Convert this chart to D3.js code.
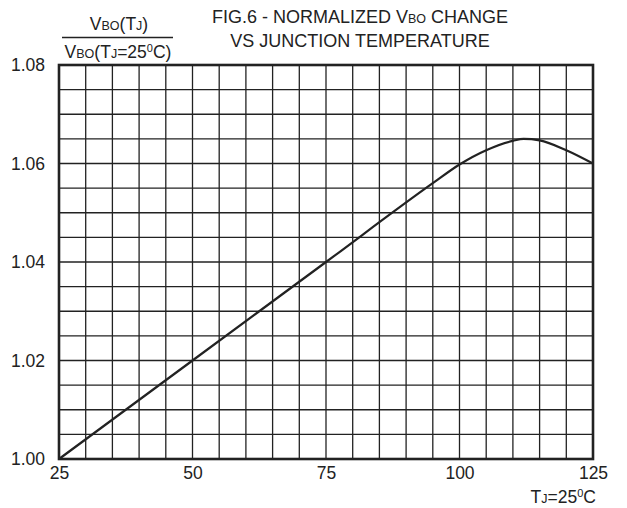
<!DOCTYPE html>
<html>
<head>
<meta charset="utf-8">
<script src="https://cdn.jsdelivr.net/npm/d3@7"></script>
<style>
  body { margin: 0; background: #fff; }
  text { font-family: "Liberation Sans", Arial, sans-serif; fill: #222; }
</style>
</head>
<body>
<svg id="chart" width="627" height="508"></svg>
<script>
// curve: junction temp (C) vs normalized VBO
const temps = [25, 50, 75, 95, 100, 105, 110, 112, 115, 120, 125];
const vbo = [1.000, 1.020, 1.040, 1.056, 1.0598, 1.0627, 1.0646, 1.0650, 1.0647, 1.0627, 1.0600];
const xTicks = [25, 50, 75, 100, 125];
const yTicks = [1.00, 1.02, 1.04, 1.06, 1.08];

const plotLeft = 59, plotRight = 593, plotTop = 65, plotBottom = 459;

const svg = d3.select('#chart');

const x = d3.scaleLinear().domain([25, 125]).range([plotLeft, plotRight]);
const y = d3.scaleLinear().domain([1.00, 1.08]).range([plotBottom, plotTop]);

// grid: 5 C columns, 0.005 rows
const grid = svg.append('g').attr('stroke', '#222').attr('stroke-width', 1.3);
grid.selectAll('line.v')
  .data(d3.range(25, 125.1, 5))
  .enter().append('line')
  .attr('class', 'v')
  .attr('x1', d => x(d)).attr('x2', d => x(d))
  .attr('y1', plotTop).attr('y2', plotBottom);
grid.selectAll('line.h')
  .data(d3.range(0, 17).map(i => 1 + i * 0.005))
  .enter().append('line')
  .attr('class', 'h')
  .attr('x1', plotLeft).attr('x2', plotRight)
  .attr('y1', d => y(d)).attr('y2', d => y(d));

svg.append('rect')
  .attr('x', plotLeft).attr('y', plotTop)
  .attr('width', plotRight - plotLeft).attr('height', plotBottom - plotTop)
  .attr('fill', 'none').attr('stroke', '#222').attr('stroke-width', 2.6);

// axes, only labels shown
const xAxis = svg.append('g')
  .attr('transform', `translate(0, ${plotBottom})`)
  .call(d3.axisBottom(x).tickValues(xTicks).tickSize(0).tickPadding(8));
xAxis.select('.domain').remove();
xAxis.selectAll('text').style('font-size', '17.5px').attr('fill', '#222');

const yAxis = svg.append('g')
  .attr('transform', `translate(${plotLeft}, 0)`)
  .call(d3.axisLeft(y).tickValues(yTicks).tickFormat(d3.format('.2f')).tickSize(0).tickPadding(14));
yAxis.select('.domain').remove();
yAxis.selectAll('text').style('font-size', '17.5px').attr('fill', '#222');

// the curve
const line = d3.line()
  .x(d => x(d))
  .y((d, i) => y(vbo[i]))
  .curve(d3.curveMonotoneX);

svg.append('path')
  .attr('d', line(temps))
  .attr('fill', 'none')
  .attr('stroke', '#222')
  .attr('stroke-width', 2.2);

// title
const title = svg.append('text')
  .attr('text-anchor', 'middle')
  .style('font-size', '18px');
const t1 = title.append('tspan').attr('x', 360).attr('y', 23);
t1.append('tspan').text('FIG.6 - NORMALIZED V');
t1.append('tspan').text('BO').style('font-size', '12.5px');
t1.append('tspan').text(' CHANGE');
title.append('tspan').attr('x', 360).attr('y', 47).text('VS JUNCTION TEMPERATURE');

// y label as a fraction
const num = svg.append('text')
  .attr('x', 119).attr('y', 30)
  .attr('text-anchor', 'middle')
  .style('font-size', '17.5px');
num.append('tspan').text('V');
num.append('tspan').text('BO').style('font-size', '12.5px');
num.append('tspan').text('(T');
num.append('tspan').text('J').style('font-size', '12.5px');
num.append('tspan').text(')');

svg.append('line')
  .attr('x1', 62).attr('x2', 173)
  .attr('y1', 37.5).attr('y2', 37.5)
  .attr('stroke', '#222').attr('stroke-width', 1.3);

const den = svg.append('text')
  .attr('x', 118).attr('y', 58)
  .attr('text-anchor', 'middle')
  .style('font-size', '17.5px');
den.append('tspan').text('V');
den.append('tspan').text('BO').style('font-size', '12.5px');
den.append('tspan').text('(T');
den.append('tspan').text('J').style('font-size', '12.5px');
den.append('tspan').text('=25');
den.append('tspan').text('0').style('font-size', '11px').attr('dy', -6);
den.append('tspan').text('C)').attr('dy', 6);

// x footnote
const foot = svg.append('text')
  .attr('x', 596).attr('y', 503)
  .attr('text-anchor', 'end')
  .style('font-size', '17.5px');
foot.append('tspan').text('T');
foot.append('tspan').text('J').style('font-size', '12.5px');
foot.append('tspan').text('=25');
foot.append('tspan').text('0').style('font-size', '11px').attr('dy', -6);
foot.append('tspan').text('C').attr('dy', 6);
</script>
</body>
</html>
